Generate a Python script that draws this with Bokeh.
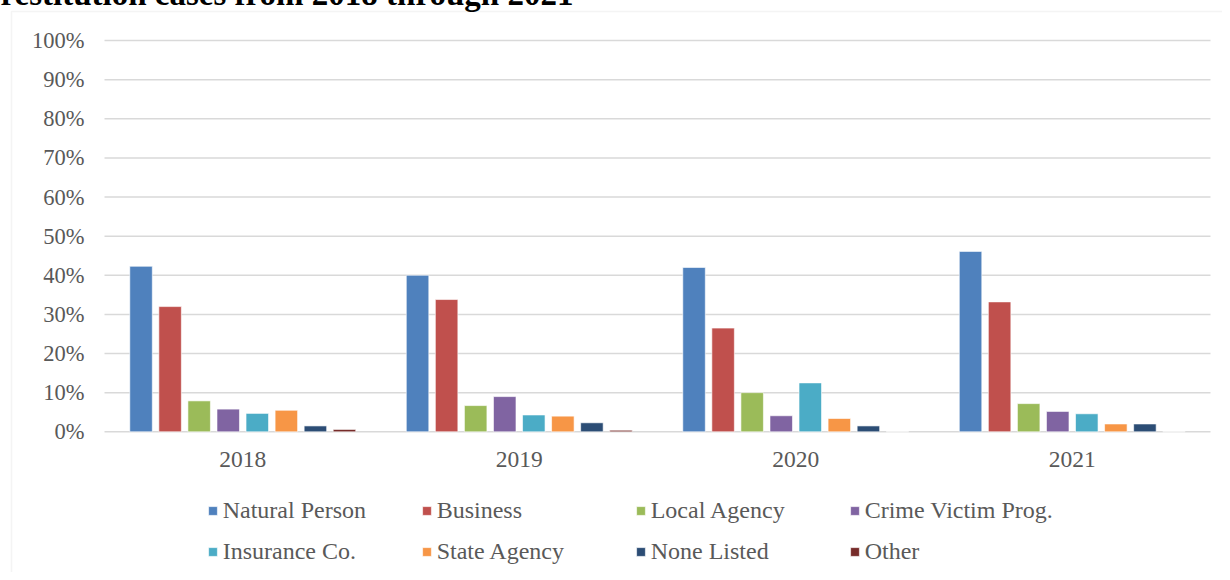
import numpy as np
from bokeh.plotting import figure
from bokeh.models import (Range1d, Legend, LegendItem, Label, BoxAnnotation,
                          ColumnDataSource)
from bokeh.core.properties import value
from bokeh.embed import file_html
from bokeh.resources import INLINE

# ---- data ----
years = ["2018", "2019", "2020", "2021"]
series = ["Natural Person", "Business", "Local Agency", "Crime Victim Prog.",
          "Insurance Co.", "State Agency", "None Listed", "Other"]
natural_person = [42.3, 40.0, 42.0, 46.1]
business = [32.0, 33.8, 26.5, 33.2]
local_agency = [7.9, 6.7, 10.0, 7.2]
crime_victim = [5.8, 9.0, 4.1, 5.2]
insurance_co = [4.7, 4.3, 12.5, 4.6]
state_agency = [5.5, 4.0, 3.4, 2.0]
none_listed = [1.5, 2.3, 1.5, 2.0]
other = [0.6, 0.4, 0.0, 0.0]
y_ticks = [0, 10, 20, 30, 40, 50, 60, 70, 80, 90, 100]
y_tick_labels = ["0%", "10%", "20%", "30%", "40%", "50%", "60%", "70%", "80%", "90%", "100%"]
title_text = "restitution cases from 2018 through 2021"

colors = ["#4F81BD", "#C0504D", "#9BBB59", "#8064A2",
          "#4BACC6", "#F79646", "#2C4D75", "#772C2A"]
values = [natural_person, business, local_agency, crime_victim,
          insurance_co, state_agency, none_listed, other]

FONT = "Liberation Serif"
GRAY = "#595959"

# the whole canvas is the plot frame; each category occupies one unit on x
p = figure(width=1230, height=580, output_backend="svg", toolbar_location=None,
           x_range=Range1d(-0.4051, 4.0434), y_range=Range1d(-35.96, 112.27),
           min_border=0)
p.styles = {"margin": "-8px"}
p.axis.visible = False
p.grid.visible = False
p.outline_line_color = None
p.background_fill_color = "white"
p.border_fill_color = "white"

n_cat = len(years)
cat_center = np.arange(n_cat) + 0.5

# gridlines of the value axis
p.segment(x0=[0] * len(y_ticks), x1=[n_cat] * len(y_ticks), y0=y_ticks, y1=y_ticks,
          line_color="#d9d9d9", line_width=1.5)

# value-axis tick labels
p.text(x=[-0.0723] * len(y_ticks), y=y_ticks, text=y_tick_labels,
       text_align="right", text_baseline="middle",
       text_font=value(FONT), text_font_size="22.5px", text_color=GRAY)

# category labels
p.text(x=cat_center, y=[-7.0] * n_cat, text=years,
       text_align="center", text_baseline="middle",
       text_font=value(FONT), text_font_size="23.5px", text_color=GRAY)

# bars
step = 0.1051
bw = 0.0814
renderers = []
for i, vals in enumerate(values):
    xs = cat_center + (i - 3.5) * step
    src = ColumnDataSource(dict(x=xs, top=vals))
    r = p.vbar(x="x", top="top", width=bw, bottom=0, source=src,
               fill_color=colors[i], line_color="white", line_alpha=0.6, line_width=1)
    renderers.append(r)

# chart-area border (left and top edges visible)
p.add_layout(BoxAnnotation(left=19, right=5000, top=19, bottom=5000,
                           left_units="canvas", right_units="canvas",
                           top_units="canvas", bottom_units="canvas",
                           fill_alpha=0, line_color="#d9d9d9", line_width=1.5))

# title, cut off at the top edge as in the reference
p.add_layout(Label(x=8, y=1, x_units="canvas", y_units="canvas", text=title_text,
                   text_font=FONT, text_font_size="33px", text_font_style="bold",
                   text_color="black", text_baseline="alphabetic"))

# legend: two rows of four
for row in range(2):
    items = [LegendItem(label=series[row * 4 + c], renderers=[renderers[row * 4 + c]])
             for c in range(4)]
    leg = Legend(items=items, orientation="horizontal",
                 location=(214.7, 47.8 - 41 * row),
                 padding=0, margin=0, spacing=6,
                 glyph_width=11, glyph_height=11, label_standoff=5,
                 label_width=192,
                 label_text_font=FONT, label_text_font_size="24px",
                 label_text_color=GRAY,
                 border_line_color=None, background_fill_alpha=0)
    p.add_layout(leg, "center")

open("out.html", "w").write(file_html(p, INLINE))
